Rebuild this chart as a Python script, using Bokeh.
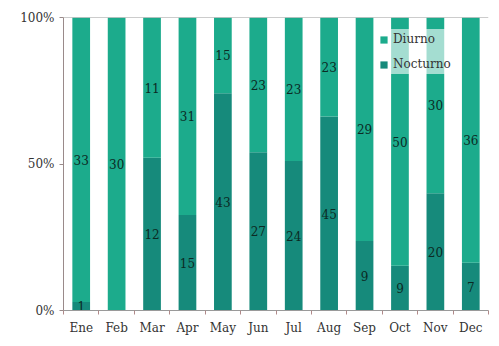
from bokeh.plotting import figure
from bokeh.models import ColumnDataSource, FixedTicker, Legend, LegendItem, Span
from bokeh.core.properties import value
from bokeh.embed import file_html
from bokeh.resources import INLINE

months = ["Ene", "Feb", "Mar", "Apr", "May", "Jun", "Jul", "Aug", "Sep", "Oct", "Nov", "Dec"]
diurno = [33, 30, 11, 31, 15, 23, 23, 23, 29, 50, 30, 36]
nocturno = [1, 0, 12, 15, 43, 27, 24, 45, 9, 9, 20, 7]
y_ticks = [0, 0.5, 1.0]
y_tick_labels = ["0%", "50%", "100%"]

FONT = "DejaVu Serif"
C_DIU = "#1cab8c"
C_NOC = "#168a7b"

xs = [i + 0.5 for i in range(len(months))]
tot = [d + n for d, n in zip(diurno, nocturno)]
f_noc = [n / t for n, t in zip(nocturno, tot)]
f_diu = [d / t for d, t in zip(diurno, tot)]

src = ColumnDataSource(dict(x=xs, noc=f_noc, diu=f_diu))

p = figure(width=499, height=346, x_range=(0, 12), y_range=(0, 1),
           output_backend="svg", toolbar_location=None,
           min_border_left=63, min_border_right=11, min_border_top=17, min_border_bottom=36)
p.outline_line_color = None
p.xgrid.visible = False
p.ygrid.visible = False
p.background_fill_color = "white"

rs = p.vbar_stack(["noc", "diu"], x="x", width=0.5, source=src,
                  color=[C_NOC, C_DIU], line_color=None)

# labels
lx, ly, lt = [], [], []
for x, n, d, fn, fd in zip(xs, nocturno, diurno, f_noc, f_diu):
    if n > 0:
        lx.append(x); ly.append(fn / 2); lt.append(str(n))
    if d > 0:
        lx.append(x); ly.append(fn + fd / 2); lt.append(str(d))
p.text(x=lx, y=ly, text=lt, text_align="center", text_baseline="middle",
       text_font=value(FONT), text_font_size="12px", text_color="#0b2a24")

p.add_layout(Span(location=1.0, dimension="width", line_color="#9a9a9a", line_width=1))

# axes
xa = p.xaxis[0]
xa.ticker = FixedTicker(ticks=xs, minor_ticks=list(range(13)))
xa.major_label_overrides = {x: m for x, m in zip(xs, months)}
xa.major_tick_out = 0
xa.major_tick_in = 0
xa.minor_tick_out = 4
xa.minor_tick_in = 0
xa.minor_tick_line_color = "#b08a8a"
xa.axis_line_color = "#9a9a9a"
xa.major_label_text_font = FONT
xa.major_label_text_font_size = "12px"
xa.major_label_text_color = "#333333"
xa.major_label_standoff = 6

ya = p.yaxis[0]
ya.ticker = FixedTicker(ticks=y_ticks, minor_ticks=[])
ya.major_label_overrides = {t: l for t, l in zip(y_ticks, y_tick_labels)}
ya.major_tick_out = 4
ya.major_tick_in = 0
ya.minor_tick_out = 0
ya.minor_tick_in = 0
ya.axis_line_color = "#9a8a8a"
ya.major_tick_line_color = "#9a8a8a"
ya.major_label_text_font = FONT
ya.major_label_text_font_size = "12px"
ya.major_label_text_color = "#333333"
ya.major_label_standoff = 5

legend = Legend(items=[LegendItem(label="Diurno", renderers=[rs[1]]),
                       LegendItem(label="Nocturno", renderers=[rs[0]])],
                location=(316, 236))
legend.label_text_font = FONT
legend.label_text_font_size = "12px"
legend.label_text_color = "#333333"
legend.label_height = 20
legend.background_fill_color = "white"
legend.background_fill_alpha = 0.6
legend.border_line_color = None
legend.glyph_width = 9
legend.glyph_height = 9
legend.label_standoff = 5
legend.spacing = 5
legend.padding = 9
legend.margin = 0
p.add_layout(legend)

open("out.html", "w").write(file_html(p, INLINE))
